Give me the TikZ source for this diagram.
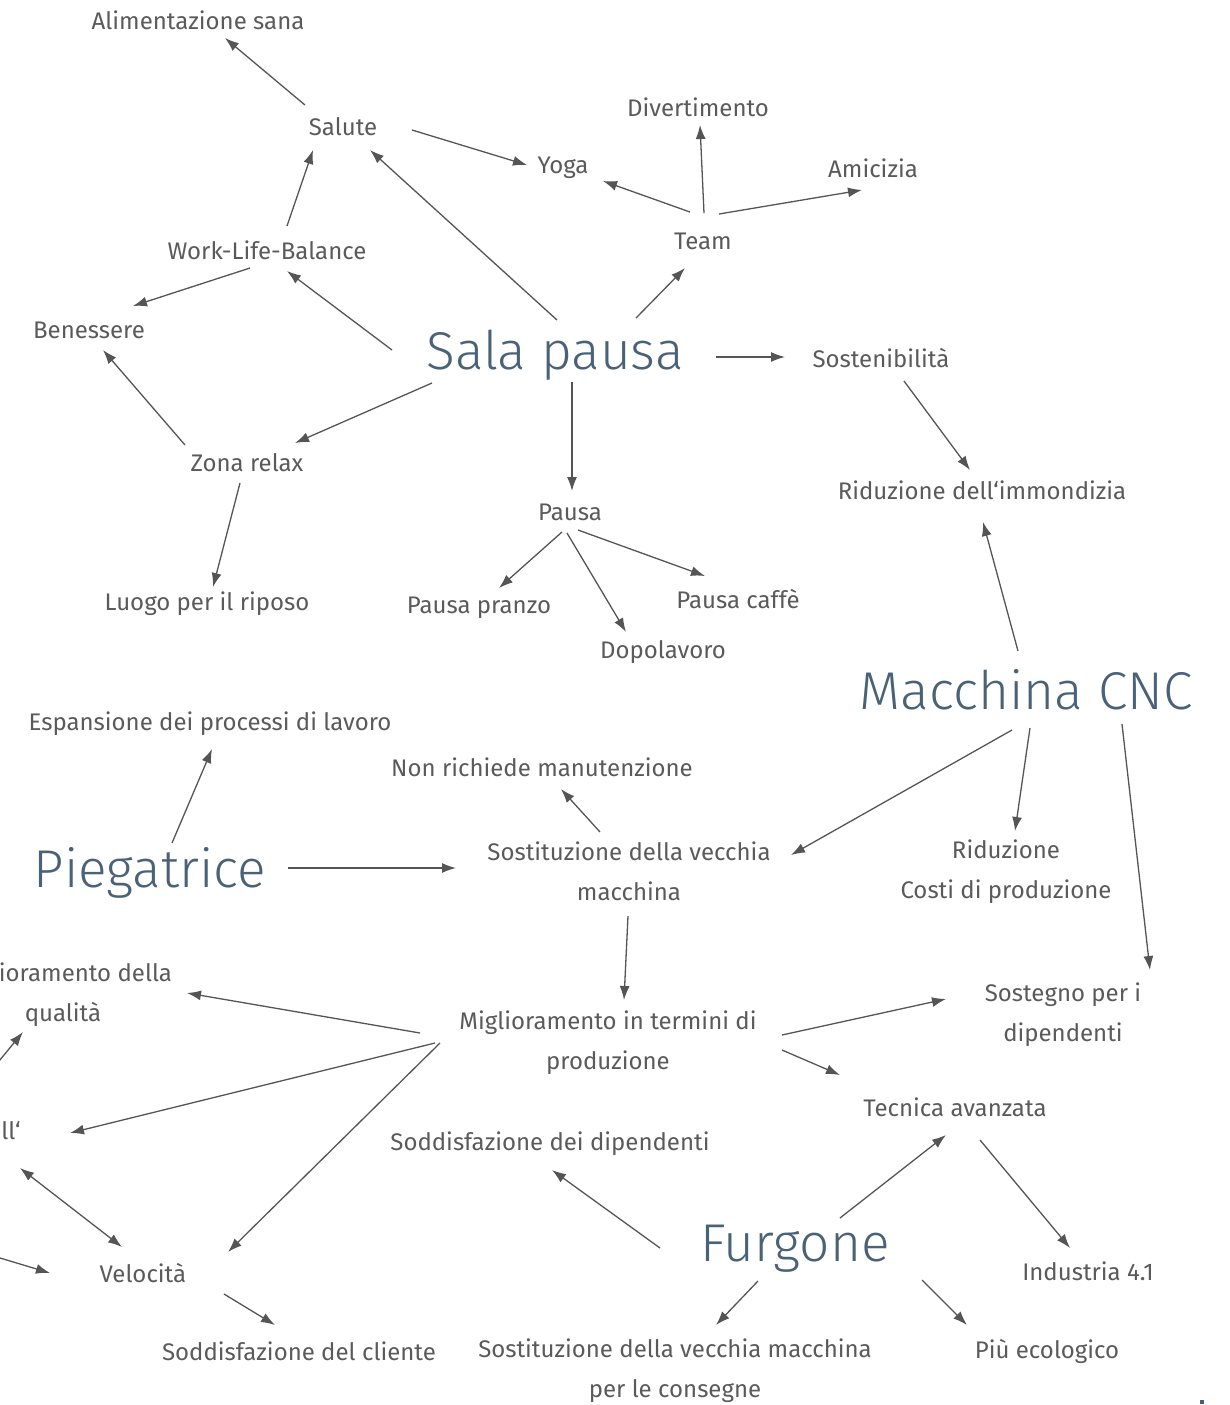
\documentclass[tikz,border=0pt]{standalone}
\usepackage{fontspec}
\setmainfont{Fira Sans}
\newfontfamily\titlefont{Fira Sans Light}
\usetikzlibrary{arrows.meta}
\definecolor{textgray}{HTML}{5A5A5A}
\definecolor{titleblue}{HTML}{4A6277}
\definecolor{arrowgray}{HTML}{555555}
\tikzset{
  txt/.style={text=textgray, font=\fontsize{12}{20}\selectfont, inner sep=0pt, align=center},
  title/.style={text=titleblue, font=\titlefont\fontsize{26.6}{32}\selectfont, inner sep=0pt},
  arr/.style={draw=arrowgray, line width=0.65pt, -{Latex[length=7pt,width=5pt]}},
  dbl/.style={arr, {Latex[length=7pt,width=5pt]}-{Latex[length=7pt,width=5pt]}}
}
\begin{document}
\begin{tikzpicture}[x=0.5pt, y=-0.5pt]
      \useasboundingbox (0,0) rectangle (1230,1405);
      \clip (0,0) rectangle (1230,1405);
      \node[txt] (ali) at (198,20) {Alimentazione sana};
      \node[txt] (salute) at (343,127) {Salute};
      \node[txt] (divert) at (698,107) {Divertimento};
      \node[txt] (yoga) at (563,168) {Yoga};
      \node[txt] (amic) at (873,168) {Amicizia};
      \node[txt] (team) at (703,241) {Team};
      \node[txt] (wlb) at (267,250) {Work-Life-Balance};
      \node[txt] (bene) at (89,330) {Benessere};
      \node[title] (sala) at (555,355) {Sala pausa};
      \node[txt] (sost) at (881,358) {Sostenibilità};
      \node[txt] (zona) at (247,463) {Zona relax};
      \node[txt] (ridimm) at (982,490) {Riduzione dell‘immondizia};
      \node[txt] (pausa) at (570,512) {Pausa};
      \node[txt] (luogo) at (207,604) {Luogo per il riposo};
      \node[txt] (pranzo) at (479,608) {Pausa pranzo};
      \node[txt] (caffe) at (738,599) {Pausa caffè};
      \node[txt] (dopo) at (663,652) {Dopolavoro};
      \node[title] (cnc) at (1026,690) {Macchina CNC};
      \node[txt] (espan) at (210,724) {Espansione dei processi di lavoro};
      \node[txt] (nonrich) at (542,767) {Non richiede manutenzione};
      \node[txt] (sostvec) at (629,871) {Sostituzione della vecchia\\macchina};
      \node[title] (pieg) at (150,873) {Piegatrice};
      \node[txt] (ridcost) at (1006,872) {Riduzione\\Costi di produzione};
      \node[txt] (qual) at (63,995) {Miglioramento della\\qualità};
      \node[txt, anchor=east] (dellq) at (21,1131) {dell‘};
      \node[txt] (velo) at (143,1273) {Velocità};
      \node[txt] (soddcl) at (299,1351) {Soddisfazione del cliente};
      \node[txt] (migl) at (608,1043) {Miglioramento in termini di\\produzione};
      \node[txt] (sosteg) at (1063,1015) {Sostegno per i\\dipendenti};
      \node[txt] (tecnica) at (955,1107) {Tecnica avanzata};
      \node[txt] (sodddip) at (550,1144) {Soddisfazione dei dipendenti};
      \node[title] (furg) at (795,1249) {Furgone};
      \node[txt] (indu) at (1088,1271) {Industria 4.1};
      \node[txt] (sostcons) at (675,1371) {Sostituzione della vecchia macchina\\per le consegne};
      \node[txt] (eco) at (1047,1351) {Più ecologico};
      \coordinate (outvelo) at (-20,1252);
      \coordinate (outqual) at (-15,1078);
      \fill[titleblue] (1200,1400) rectangle (1204,1404);
      \begin{scope}
        \draw[arr] ([shift={(-38,-22)}]salute.center) -- ([shift={(27,18)}]ali.center);
        \draw[arr] ([shift={(69,3)}]salute.center) -- ([shift={(-36,-3)}]yoga.center);
        \draw[arr] ([shift={(-13,-29)}]team.center) -- ([shift={(40,13)}]yoga.center);
        \draw[arr] ([shift={(1,-28)}]team.center) -- ([shift={(2,18)}]divert.center);
        \draw[arr] ([shift={(16,-27)}]team.center) -- ([shift={(-11,22)}]amic.center);
        \draw[arr] ([shift={(2,-35)}]sala.center) -- ([shift={(27,23)}]salute.center);
        \draw[arr] ([shift={(81,-37)}]sala.center) -- ([shift={(-18,27)}]team.center);
        \draw[arr] ([shift={(20,-24)}]wlb.center) -- ([shift={(-30,23)}]salute.center);
        \draw[arr] ([shift={(-17,18)}]wlb.center) -- ([shift={(44,-24)}]bene.center);
        \draw[arr] ([shift={(-163,-5)}]sala.center) -- ([shift={(20,21)}]wlb.center);
        \draw[arr] ([shift={(161,2)}]sala.center) -- ([shift={(-96,-1)}]sost.center);
        \draw[arr] ([shift={(-123,28)}]sala.center) -- ([shift={(48,-20)}]zona.center);
        \draw[arr] ([shift={(-62,-18)}]zona.center) -- ([shift={(14,20)}]bene.center);
        \draw[arr] ([shift={(-7,20)}]zona.center) -- ([shift={(6,-17)}]luogo.center);
        \draw[arr] ([shift={(17,27)}]sala.center) -- ([shift={(2,-21)}]pausa.center);
        \draw[arr] ([shift={(23,23)}]sost.center) -- ([shift={(-12,-20)}]ridimm.center);
        \draw[arr] ([shift={(-8,20)}]pausa.center) -- ([shift={(20,-20)}]pranzo.center);
        \draw[arr] ([shift={(-3,21)}]pausa.center) -- ([shift={(-37,-20)}]dopo.center);
        \draw[arr] ([shift={(8,18)}]pausa.center) -- ([shift={(-33,-23)}]caffe.center);
        \draw[arr] ([shift={(-8,-39)}]cnc.center) -- ([shift={(1,32)}]ridimm.center);
        \draw[arr] ([shift={(-14,40)}]cnc.center) -- ([shift={(162,-16)}]sostvec.center);
        \draw[arr] ([shift={(4,38)}]cnc.center) -- ([shift={(9,-41)}]ridcost.center);
        \draw[arr] ([shift={(96,34)}]cnc.center) -- ([shift={(87,-45)}]sosteg.center);
        \draw[arr] ([shift={(22,-30)}]pieg.center) -- ([shift={(2,25)}]espan.center);
        \draw[arr] ([shift={(138,-5)}]pieg.center) -- ([shift={(-173,-3)}]sostvec.center);
        \draw[arr] ([shift={(-29,-39)}]sostvec.center) -- ([shift={(19,22)}]nonrich.center);
        \draw[arr] ([shift={(-1,45)}]sostvec.center) -- ([shift={(16,-43)}]migl.center);
        \draw[arr] ([shift={(-188,-10)}]migl.center) -- ([shift={(124,-2)}]qual.center);
        \draw[arr] ([shift={(-173,0)}]migl.center) -- ([shift={(49,2)}]dellq.east);
        \draw[arr] ([shift={(-168,0)}]migl.center) -- ([shift={(85,-21)}]velo.center);
        \draw[arr] ([shift={(174,-8)}]migl.center) -- ([shift={(-117,-16)}]sosteg.center);
        \draw[arr] ([shift={(174,7)}]migl.center) -- ([shift={(-115,-32)}]tecnica.center);
        \draw[dbl] ([shift={(-1,37)}]dellq.east) -- ([shift={(-21,-26)}]velo.center);
        \draw[arr] (outvelo) -- ([shift={(-93,0)}]velo.center);
        \draw[arr] (outqual) -- ([shift={(-40,37)}]qual.center);
        \draw[arr] ([shift={(81,21)}]velo.center) -- ([shift={(-24,-26)}]soddcl.center);
        \draw[arr] ([shift={(45,-31)}]furg.center) -- ([shift={(-9,28)}]tecnica.center);
        \draw[arr] ([shift={(25,33)}]tecnica.center) -- ([shift={(-18,-23)}]indu.center);
        \draw[arr] ([shift={(-135,-1)}]furg.center) -- ([shift={(2,26)}]sodddip.center);
        \draw[arr] ([shift={(-37,32)}]furg.center) -- ([shift={(41,-46)}]sostcons.center);
        \draw[arr] ([shift={(127,31)}]furg.center) -- ([shift={(-80,-26)}]eco.center);
      \end{scope}
    \end{tikzpicture}
\end{document}
